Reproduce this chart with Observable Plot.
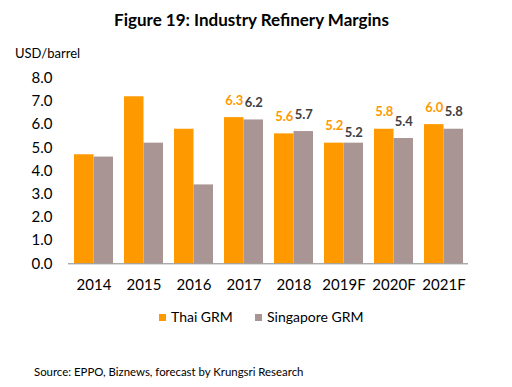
<!DOCTYPE html>
<html>
<head>
<meta charset="utf-8">
<script src="https://cdn.jsdelivr.net/npm/d3@7"></script>
<script src="https://cdn.jsdelivr.net/npm/@observablehq/plot@0.6"></script>
<style>
  body { margin: 0; background: #fff; font-family: Lato, "Open Sans", sans-serif; }
  #wrap { position: relative; width: 512px; height: 387px; overflow: hidden; }
  .abs { position: absolute; white-space: nowrap; color: #000; }
  #chart { position: absolute; left: 0; top: 60px; }
  .sw { display: inline-block; width: 7px; height: 7px; margin-right: 5px; vertical-align: middle; position: relative; top: -1px; }
</style>
</head>
<body>
<div id="wrap">
  <div class="abs" id="title" style="left:0;width:503px;text-align:center;top:10px;line-height:20px;font-size:17px;font-weight:bold;">Figure 19: Industry Refinery Margins</div>
  <div class="abs" id="unit" style="left:15px;top:44px;line-height:18px;font-size:13px;">USD/barrel</div>
  <div id="chart"></div>
  <div class="abs" id="legend" style="left:0;top:308px;line-height:18px;font-size:14px;"></div>
  <div class="abs" id="source" style="left:34px;top:364px;line-height:16px;font-size:11.4px;">Source: EPPO, Biznews, forecast by Krungsri Research</div>
</div>
<script>
const years = ["2014", "2015", "2016", "2017", "2018", "2019F", "2020F", "2021F"];
const thaiGRM = [4.7, 7.2, 5.8, 6.3, 5.6, 5.2, 5.8, 6.0];
const singaporeGRM = [4.6, 5.2, 3.4, 6.2, 5.7, 5.2, 5.4, 5.8];
const labeledYears = ["2017", "2018", "2019F", "2020F", "2021F"];
const yTicks = [0, 1, 2, 3, 4, 5, 6, 7, 8];
const seriesNames = ["Thai GRM", "Singapore GRM"];
const seriesColors = ["#FF9900", "#A99593"];
const labelColors = ["#FF9900", "#404040"];

const thai = years.map((y, i) => ({year: y, value: thaiGRM[i]}));
const sing = years.map((y, i) => ({year: y, value: singaporeGRM[i], tie: thaiGRM[i] === singaporeGRM[i]}));
const thaiLab = thai.filter(d => labeledYears.includes(d.year));
const singLab = sing.filter(d => labeledYears.includes(d.year) && !d.tie);
const singLabTie = sing.filter(d => labeledYears.includes(d.year) && d.tie);

const half = 19.5;
const fmt = d => d.value.toFixed(1);
const plot = Plot.plot({
  width: 512,
  height: 240,
  marginLeft: 68,
  marginRight: 44,
  marginTop: 17.7,
  marginBottom: 36.7,
  style: {fontFamily: "Lato, 'Open Sans', sans-serif", fontSize: "15px", color: "#000", background: "transparent"},
  x: {domain: years, paddingInner: 0.22, paddingOuter: 0.11, label: null},
  y: {domain: [0, 8], label: null},
  marks: [
    Plot.barY(thai, {x: "year", y: "value", fill: seriesColors[0], insetRight: half}),
    Plot.barY(sing, {x: "year", y: "value", fill: seriesColors[1], insetLeft: half}),
    Plot.ruleY([0], {stroke: "#868686", strokeWidth: 1}),
    Plot.text(thaiLab, {x: "year", y: "value", text: fmt, dx: -half / 2, dy: -17, fill: labelColors[0], fontWeight: "bold", fontSize: 13}),
    Plot.text(singLab, {x: "year", y: "value", text: fmt, dx: half / 2, dy: -17, fill: labelColors[1], fontWeight: "bold", fontSize: 13}),
    Plot.text(singLabTie, {x: "year", y: "value", text: fmt, dx: half / 2, dy: -10, fill: labelColors[1], fontWeight: "bold", fontSize: 13}),
    Plot.axisX({tickSize: 0, tickPadding: 16, fontSize: 15, label: null}),
    Plot.axisY({ticks: yTicks, tickFormat: d => d.toFixed(1), tickSize: 0, tickPadding: 16, fontSize: 15, label: null})
  ]
});
document.getElementById("chart").appendChild(plot);

const legend = document.getElementById("legend");
const lpos = [159, 255];
seriesNames.forEach((name, i) => {
  const item = document.createElement("div");
  item.className = "abs";
  item.style.left = lpos[i] + "px";
  item.style.top = "0px";
  item.innerHTML = `<span class="sw" style="background:${seriesColors[i]}"></span>${name}`;
  legend.appendChild(item);
});
</script>
</body>
</html>
